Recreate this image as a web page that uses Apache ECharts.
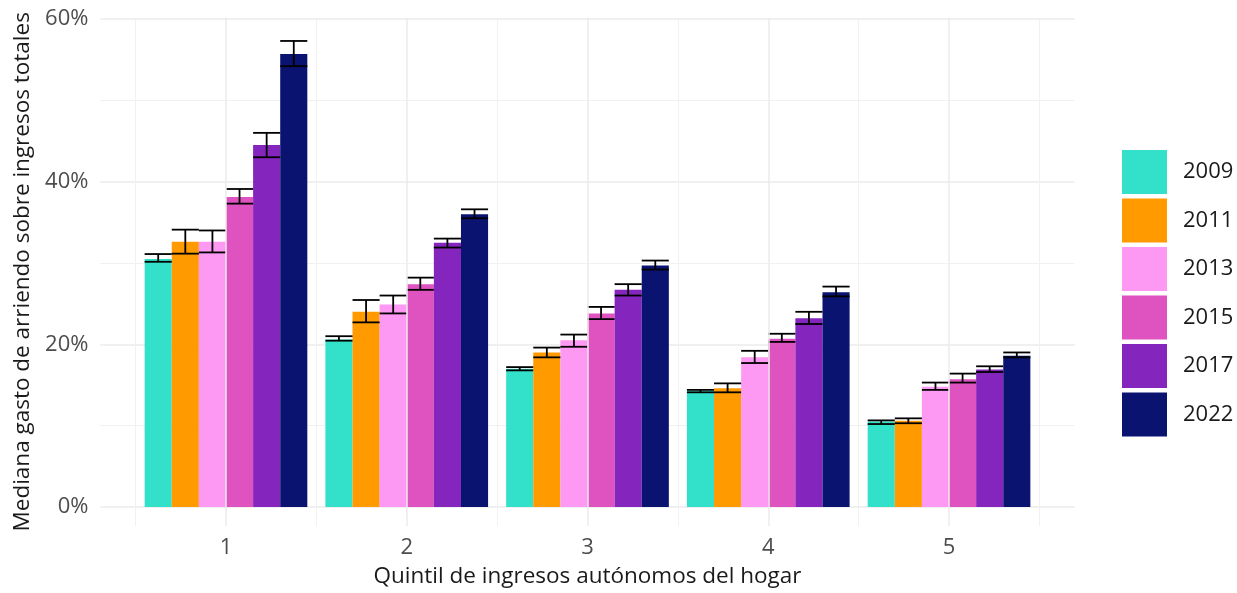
<!DOCTYPE html>
<html>
<head>
<meta charset="utf-8">
<script src="https://cdn.jsdelivr.net/npm/echarts@6/dist/echarts.min.js"></script>
<style>
html,body{margin:0;padding:0;background:#fff;}
#c{width:1237px;height:593px;}
</style>
</head>
<body>
<div id="c"></div>
<script>
const quintiles = ['1', '2', '3', '4', '5'];
const years = ['2009', '2011', '2013', '2015', '2017', '2022'];
const colors = ['#33e0c9', '#ff9a00', '#fd99f2', '#de53c0', '#8425be', '#0a1470'];
const yTicks = [0, 20, 40, 60];

const val2009 = [30.5, 20.6, 17.0, 14.3, 10.5];
const lo2009  = [30.15, 20.45, 16.8, 14.1, 10.2];
const hi2009  = [31.1, 21.0, 17.2, 14.4, 10.65];
const val2011 = [32.6, 24.0, 19.0, 14.6, 10.6];
const lo2011  = [31.15, 22.7, 18.4, 14.1, 10.3];
const hi2011  = [34.1, 25.45, 19.6, 15.2, 10.9];
const val2013 = [32.6, 24.9, 20.5, 18.4, 14.8];
const lo2013  = [31.3, 23.8, 19.7, 17.7, 14.4];
const hi2013  = [34.0, 26.0, 21.2, 19.2, 15.3];
const val2015 = [38.1, 27.4, 23.8, 20.7, 15.7];
const lo2015  = [37.3, 26.7, 23.1, 20.3, 15.3];
const hi2015  = [39.1, 28.2, 24.6, 21.3, 16.4];
const val2017 = [44.5, 32.5, 26.7, 23.2, 16.9];
const lo2017  = [43.0, 31.9, 26.0, 22.5, 16.6];
const hi2017  = [46.0, 33.0, 27.4, 24.0, 17.3];
const val2022 = [55.7, 36.0, 29.7, 26.4, 18.6];
const lo2022  = [54.2, 35.5, 29.2, 25.9, 18.4];
const hi2022  = [57.3, 36.6, 30.3, 27.1, 19.0];

const values = [val2009, val2011, val2013, val2015, val2017, val2022];
const lows = [lo2009, lo2011, lo2013, lo2015, lo2017, lo2022];
const highs = [hi2009, hi2011, hi2013, hi2015, hi2017, hi2022];

const FONT = 'Open Sans';
const errData = [];
years.forEach((y, k) => {
  quintiles.forEach((q, i) => {
    errData.push([i, k, lows[k][i], highs[k][i]]);
  });
});

const barSeries = years.map((y, k) => ({
  name: y,
  type: 'bar',
  xAxisIndex: 0,
  yAxisIndex: 0,
  data: values[k],
  itemStyle: { color: colors[k] },
  barGap: '0%',
  barCategoryGap: '10%',
  z: 2,
  silent: true
}));

const option = {
  animation: false,
  backgroundColor: '#ffffff',
  textStyle: { fontFamily: FONT },
  grid: [
    { left: 135.6, right: 197.6, top: 19, bottom: 86 },
    { left: 100.4, right: 162.4, top: 19, bottom: 86 },
    { left: 135.6, right: 197.6, top: 17.6, bottom: 62.7 }
  ],
  xAxis: [
    { gridIndex: 0, type: 'category', data: quintiles, axisLine: { show: false }, axisTick: { show: false }, axisLabel: { show: false }, splitLine: { show: false } },
    { gridIndex: 1, type: 'value', min: 0, max: 1, show: false },
    {
      gridIndex: 2, type: 'category', data: quintiles,
      axisLine: { show: false }, axisTick: { show: false },
      axisLabel: { fontSize: 22, color: '#4d4d4d', margin: 11, fontFamily: FONT },
      splitLine: { show: true, lineStyle: { color: '#f1f1f1', width: 1 } },
      name: 'Quintil de ingresos autónomos del hogar',
      nameLocation: 'middle', nameGap: 39,
      nameTextStyle: { fontSize: 22.5, color: '#1a1a1a', fontFamily: FONT }
    }
  ],
  yAxis: [
    { gridIndex: 0, type: 'value', min: 0, max: 60, show: false },
    {
      gridIndex: 1, type: 'value', min: yTicks[0], max: yTicks[yTicks.length - 1], interval: 20,
      axisLine: { show: false }, axisTick: { show: false },
      axisLabel: { formatter: '{value}%', fontSize: 22, color: '#4d4d4d', margin: 12, fontFamily: FONT },
      splitLine: { show: true, lineStyle: { color: '#ebebeb', width: 1.5 } },
      minorTick: { show: false, splitNumber: 2 },
      minorSplitLine: { show: true, lineStyle: { color: '#f1f1f1', width: 1 } }
    },
    {
      gridIndex: 2, type: 'value', min: 0, max: 1,
      axisLine: { show: false }, axisTick: { show: false }, axisLabel: { show: false }, splitLine: { show: false },
      name: 'Mediana gasto de arriendo sobre ingresos totales',
      nameLocation: 'middle', nameGap: 102,
      nameTextStyle: { fontSize: 22.5, color: '#1a1a1a', fontFamily: FONT }
    }
  ],
  legend: {
    data: years,
    orient: 'vertical',
    left: 1122,
    top: 150,
    padding: 0,
    itemWidth: 45,
    itemHeight: 44,
    itemGap: 4.5,
    icon: 'rect',
    selectedMode: false,
    textStyle: { fontSize: 22, color: '#1a1a1a', fontFamily: FONT, padding: [0, 0, 0, 11] }
  },
  series: [
    {
      name: 'majorGrid',
      type: 'line',
      xAxisIndex: 2,
      yAxisIndex: 2,
      data: [],
      z: 1,
      silent: true,
      markLine: {
        silent: true,
        symbol: 'none',
        label: { show: false },
        lineStyle: { color: '#ebebeb', width: 1.5, type: 'solid' },
        data: quintiles.map(q => ({ xAxis: q }))
      }
    },
    ...barSeries,
    {
      name: 'errores',
      type: 'custom',
      xAxisIndex: 0,
      yAxisIndex: 0,
      z: 3,
      silent: true,
      data: errData,
      encode: { x: 0, y: [2, 3] },
      renderItem: function (params, api) {
        const cat = api.value(0);
        const k = api.value(1);
        const lo = api.value(2);
        const hi = api.value(3);
        const band = api.size([1, 0])[0];
        const bw = band * 0.9 / years.length;
        const cx = api.coord([cat, 0])[0] + (k - (years.length - 1) / 2) * bw;
        const yl = api.coord([cat, lo])[1];
        const yh = api.coord([cat, hi])[1];
        const st = { stroke: '#000', lineWidth: 1.8 };
        return {
          type: 'group',
          children: [
            { type: 'line', shape: { x1: cx, y1: yl, x2: cx, y2: yh }, style: st },
            { type: 'line', shape: { x1: cx - bw / 2, y1: yl, x2: cx + bw / 2, y2: yl }, style: st },
            { type: 'line', shape: { x1: cx - bw / 2, y1: yh, x2: cx + bw / 2, y2: yh }, style: st }
          ]
        };
      }
    }
  ]
};

const chart = echarts.init(document.getElementById('c'));
chart.setOption(option);
</script>
</body>
</html>
